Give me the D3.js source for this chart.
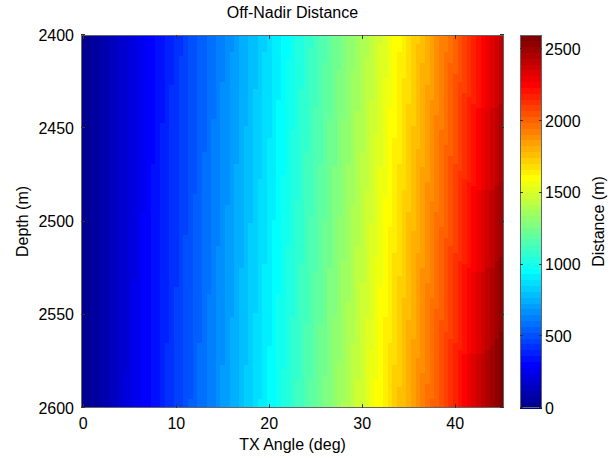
<!DOCTYPE html>
<html>
<head>
<meta charset="utf-8">
<script src="https://cdn.jsdelivr.net/npm/d3@7"></script>
<style>
  html, body { margin: 0; padding: 0; background: #fff; }
  svg { display: block; font-family: "Liberation Sans", Arial, sans-serif; }
  .cells rect { shape-rendering: crispEdges; }
</style>
</head>
<body>
<svg id="chart" width="613" height="460"></svg>
<script>
// Transmit angle grid (deg) and depth grid (m)
const angles = d3.range(0, 45.0001, 0.5);
const depths = d3.range(2400, 2600.0001, 2);
const angleStep = 0.5;
const depthStep = 2;

// Axis ticks and colour limits
const xTicks = [0, 10, 20, 30, 40];
const yTicks = [2400, 2450, 2500, 2550, 2600];
const cTicks = [0, 500, 1000, 1500, 2000, 2500];
const cLimits = [0, 2600];

const titleText = "Off-Nadir Distance";
const xLabel = "TX Angle (deg)";
const yLabel = "Depth (m)";
const cLabel = "Distance (m)";

// Horizontal distance from nadir for each angle/depth cell
const cells = [];
depths.forEach(d => {
  angles.forEach(a => {
    cells.push({ angle: a, depth: d, dist: d * Math.tan(a * Math.PI / 180) });
  });
});

// 64-level jet colour map
function jetMap(m) {
  const n = Math.ceil(m / 4);
  const u = [];
  for (let i = 1; i <= n; i++) u.push(i / n);
  for (let i = 1; i < n; i++) u.push(1);
  for (let i = n; i >= 1; i--) u.push(i / n);
  const off = Math.ceil(n / 2) - (m % 4 === 1 ? 1 : 0);
  const J = Array.from({ length: m }, () => [0, 0, 0]);
  for (let k = 0; k < u.length; k++) {
    const g = off + k + 1, r = g + n, b = g - n;
    if (g >= 1 && g <= m) J[g - 1][1] = u[k];
    if (r >= 1 && r <= m) J[r - 1][0] = u[k];
    if (b >= 1 && b <= m) J[b - 1][2] = u[k];
  }
  return J.map(c => d3.rgb(c[0] * 255, c[1] * 255, c[2] * 255).toString());
}
const jet = jetMap(64);
const colorOf = v => {
  let idx = Math.floor((v - cLimits[0]) / (cLimits[1] - cLimits[0]) * jet.length);
  idx = Math.max(0, Math.min(jet.length - 1, idx));
  return jet[idx];
};

const svg = d3.select("#chart");
const plot = { left: 81, right: 504, top: 35, bottom: 408 };
const cbar = { left: 520, right: 542, top: 35, bottom: 408 };

const x = d3.scaleLinear()
  .domain([angles[0] - angleStep / 2, angles[angles.length - 1] + angleStep / 2])
  .range([plot.left, plot.right]);
const y = d3.scaleLinear().domain([2400, 2600]).range([plot.top, plot.bottom]);
const c = d3.scaleLinear().domain(cLimits).range([cbar.bottom, cbar.top]);

svg.append("clipPath").attr("id", "plotClip")
  .append("rect")
  .attr("x", plot.left).attr("y", plot.top)
  .attr("width", plot.right - plot.left).attr("height", plot.bottom - plot.top);

// Image cells
svg.append("g").attr("class", "cells").attr("clip-path", "url(#plotClip)")
  .selectAll("rect").data(cells).join("rect")
  .attr("x", d => x(d.angle - angleStep / 2))
  .attr("y", d => y(d.depth - depthStep / 2))
  .attr("width", d => x(d.angle + angleStep / 2) - x(d.angle - angleStep / 2) + 0.5)
  .attr("height", d => y(d.depth + depthStep / 2) - y(d.depth - depthStep / 2) + 0.5)
  .attr("fill", d => colorOf(d.dist));

const axisColor = "#333";
const boxColor = "#666";
const tickLen = 4;

// Main axes: box with inward ticks
const axes = svg.append("g");
axes.append("rect")
  .attr("x", plot.left + 0.5).attr("y", plot.top + 0.5)
  .attr("width", plot.right - plot.left - 1).attr("height", plot.bottom - plot.top - 1)
  .attr("fill", "none").attr("stroke", boxColor).attr("stroke-width", 1);

xTicks.forEach(t => {
  const px = Math.round(x(t)) + 0.5;
  axes.append("line").attr("x1", px).attr("x2", px)
    .attr("y1", plot.bottom).attr("y2", plot.bottom - tickLen).attr("stroke", axisColor);
  axes.append("line").attr("x1", px).attr("x2", px)
    .attr("y1", plot.top).attr("y2", plot.top + tickLen).attr("stroke", axisColor);
  axes.append("text").attr("x", x(t)).attr("y", plot.bottom + 21)
    .attr("text-anchor", "middle").attr("font-size", 16).attr("fill", "#000").text(t);
});

yTicks.forEach(t => {
  const py = Math.round(y(t)) - 0.5;
  axes.append("line").attr("x1", plot.left).attr("x2", plot.left + tickLen)
    .attr("y1", py).attr("y2", py).attr("stroke", axisColor);
  axes.append("line").attr("x1", plot.right).attr("x2", plot.right - tickLen)
    .attr("y1", py).attr("y2", py).attr("stroke", axisColor);
  axes.append("text").attr("x", plot.left - 7).attr("y", y(t) + 5.5)
    .attr("text-anchor", "end").attr("font-size", 16).attr("fill", "#000").text(t);
});

svg.append("text").attr("x", (plot.left + plot.right) / 2).attr("y", 18)
  .attr("text-anchor", "middle").attr("font-size", 16).text(titleText);
svg.append("text").attr("x", (plot.left + plot.right) / 2).attr("y", 450)
  .attr("text-anchor", "middle").attr("font-size", 16).text(xLabel);
svg.append("text")
  .attr("transform", `translate(28,${(plot.top + plot.bottom) / 2}) rotate(-90)`)
  .attr("text-anchor", "middle").attr("font-size", 16).text(yLabel);

// Colour bar
const bands = jet.map((col, i) => ({
  lo: cLimits[0] + (cLimits[1] - cLimits[0]) * i / jet.length,
  hi: cLimits[0] + (cLimits[1] - cLimits[0]) * (i + 1) / jet.length,
  col
}));
svg.append("g").attr("class", "cells")
  .selectAll("rect").data(bands).join("rect")
  .attr("x", cbar.left).attr("width", cbar.right - cbar.left)
  .attr("y", d => c(d.hi)).attr("height", d => c(d.lo) - c(d.hi) + 0.5)
  .attr("fill", d => d.col);
svg.append("rect")
  .attr("x", cbar.left + 0.5).attr("y", cbar.top + 0.5)
  .attr("width", cbar.right - cbar.left - 1).attr("height", cbar.bottom - cbar.top - 1)
  .attr("fill", "none").attr("stroke", boxColor);
cTicks.forEach(t => {
  const py = Math.round(c(t)) - 0.5;
  svg.append("line").attr("x1", cbar.left).attr("x2", cbar.left + 3)
    .attr("y1", py).attr("y2", py).attr("stroke", axisColor);
  svg.append("line").attr("x1", cbar.right).attr("x2", cbar.right - 3)
    .attr("y1", py).attr("y2", py).attr("stroke", axisColor);
  svg.append("text").attr("x", cbar.right + 3).attr("y", c(t) + 5.5)
    .attr("text-anchor", "start").attr("font-size", 16).text(t);
});
svg.append("text")
  .attr("transform", `translate(604,${(cbar.top + cbar.bottom) / 2}) rotate(-90)`)
  .attr("text-anchor", "middle").attr("font-size", 16).text(cLabel);
</script>
</body>
</html>
